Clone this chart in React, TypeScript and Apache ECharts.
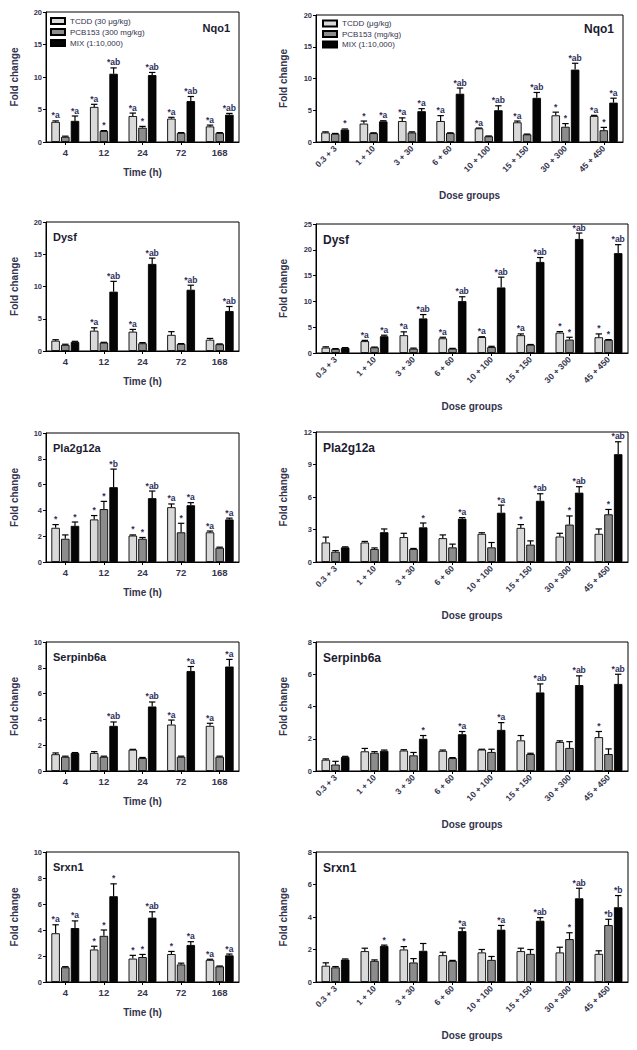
import React, { useEffect, useRef } from "react";
import * as echarts from "echarts";

// ---------- categories & legend names ----------
const timeCats = ["4", "12", "24", "72", "168"];
const doseCats = ["0.3 + 3", "1 + 10", "3 + 30", "6 + 60", "10 + 100", "15 + 150", "30 + 300", "45 + 450"];
const timeNames = ["TCDD (30 μg/kg)", "PCB153 (300 mg/kg)", "MIX (1:10,000)"];
const doseNames = ["TCDD (μg/kg)", "PCB153 (mg/kg)", "MIX (1:10,000)"];

// ---------- data: [TCDD, PCB153, MIX] ----------
// Nqo1 - time
const nqo1TimeMean = [[3.1, 5.4, 4.0, 3.6, 2.4], [0.8, 1.7, 2.2, 1.4, 1.4], [3.25, 10.5, 10.3, 6.3, 4.2]];
const nqo1TimeSem = [[0.15, 0.4, 0.45, 0.2, 0.2], [0.1, 0.05, 0.2, 0.05, 0.05], [0.75, 0.9, 0.4, 0.7, 0.2]];
const nqo1TimeSig = [["*a", "*a", "*a", "*a", "*a"], ["", "*", "*", "", ""], ["*a", "*ab", "*ab", "*ab", "*ab"]];
// Nqo1 - dose
const nqo1DoseMean = [[1.5, 2.9, 3.3, 3.3, 2.15, 3.1, 4.2, 4.1], [1.3, 1.4, 1.5, 1.4, 0.9, 1.2, 2.4, 1.85], [1.95, 3.25, 4.85, 7.6, 5.0, 6.95, 11.4, 6.2]];
const nqo1DoseSem = [[0.1, 0.4, 0.5, 0.85, 0.05, 0.2, 0.5, 0.1], [0.05, 0.05, 0.1, 0.05, 0.05, 0.05, 0.5, 0.45], [0.1, 0.1, 0.4, 0.9, 0.7, 0.85, 1.0, 0.7]];
const nqo1DoseSig = [["", "*", "*a", "*a", "*a", "*a", "*", "*a"], ["", "", "", "", "", "", "*", "*"], ["*", "*a", "*a", "*ab", "*ab", "*ab", "*ab", "*a"]];
// Dysf - time
const dysfTimeMean = [[1.6, 3.15, 3.0, 2.5, 1.75], [0.95, 1.3, 1.2, 1.1, 1.05], [1.4, 9.2, 13.5, 9.5, 6.2]];
const dysfTimeSem = [[0.15, 0.45, 0.35, 0.5, 0.2], [0.1, 0.05, 0.1, 0.05, 0.05], [0.1, 1.6, 0.9, 0.7, 0.7]];
const dysfTimeSig = [["", "*a", "*a", "", ""], ["", "", "", "", ""], ["", "*ab", "*ab", "*ab", "*ab"]];
// Dysf - dose
const dysfDoseMean = [[1.05, 2.3, 3.45, 2.85, 3.1, 3.45, 3.95, 3.05], [0.8, 1.1, 0.85, 0.85, 1.15, 1.6, 2.6, 2.55], [1.0, 3.25, 6.7, 10.05, 12.7, 17.65, 22.1, 19.35]];
const dysfDoseSem = [[0.15, 0.15, 0.65, 0.2, 0.05, 0.25, 0.2, 0.65], [0.05, 0.05, 0.1, 0.05, 0.15, 0.05, 0.45, 0.05], [0.05, 0.2, 0.75, 0.85, 2.0, 0.85, 1.15, 1.65]];
const dysfDoseSig = [["", "*a", "*a", "*a", "*a", "*a", "*", "*"], ["", "", "", "", "", "", "*", "*"], ["", "*a", "*ab", "*ab", "*ab", "*ab", "*ab", "*ab"]];
// Pla2g12a - time
const plaTimeMean = [[2.65, 3.3, 2.05, 4.25, 2.3], [1.8, 4.1, 1.8, 2.3, 1.1], [2.8, 5.8, 4.95, 4.4, 3.3]];
const plaTimeSem = [[0.25, 0.3, 0.05, 0.25, 0.1], [0.3, 0.6, 0.1, 0.7, 0.05], [0.3, 1.4, 0.55, 0.2, 0.1]];
const plaTimeSig = [["*", "*", "*", "*a", "*a"], ["", "*", "*", "*", ""], ["*", "*b", "*ab", "*a", "*a"]];
// Pla2g12a - dose
const plaDoseMean = [[1.8, 1.8, 2.3, 2.2, 2.6, 3.15, 2.35, 2.6], [0.95, 1.2, 1.2, 1.35, 1.35, 1.6, 3.45, 4.4], [1.35, 2.75, 3.2, 4.0, 4.55, 5.65, 6.4, 9.95]];
const plaDoseSem = [[0.5, 0.1, 0.35, 0.3, 0.1, 0.3, 0.3, 0.45], [0.1, 0.1, 0.05, 0.3, 0.45, 0.35, 0.8, 0.45], [0.05, 0.3, 0.4, 0.1, 0.7, 0.65, 0.55, 1.15]];
const plaDoseSig = [["", "", "", "", "", "*", "", ""], ["", "", "", "", "", "", "*", "*"], ["", "", "*", "*a", "*a", "*ab", "*ab", "*ab"]];
// Serpinb6a - time
const serpTimeMean = [[1.3, 1.4, 1.65, 3.6, 3.5], [1.1, 1.1, 1.0, 1.1, 1.1], [1.4, 3.5, 5.0, 7.75, 8.1]];
const serpTimeSem = [[0.1, 0.1, 0.03, 0.35, 0.2], [0.05, 0.05, 0.05, 0.05, 0.05], [0.03, 0.3, 0.35, 0.35, 0.55]];
const serpTimeSig = [["", "", "", "*a", "*a"], ["", "", "", "", ""], ["", "*ab", "*ab", "*a", "*a"]];
// Serpinb6a - dose
const serpDoseMean = [[0.7, 1.22, 1.27, 1.25, 1.33, 1.9, 1.8, 2.1], [0.4, 1.13, 0.97, 0.8, 1.18, 1.05, 1.43, 1.05], [0.87, 1.25, 2.0, 2.28, 2.55, 4.87, 5.33, 5.4]];
const serpDoseSem = [[0.05, 0.18, 0.05, 0.05, 0.02, 0.3, 0.07, 0.35], [0.2, 0.07, 0.18, 0.03, 0.17, 0.05, 0.39, 0.32], [0.04, 0.05, 0.2, 0.17, 0.45, 0.53, 0.57, 0.6]];
const serpDoseSig = [["", "", "", "", "", "", "", "*"], ["", "", "", "", "", "", "", ""], ["", "", "*", "*a", "*a", "*ab", "*ab", "*ab"]];
// Srxn1 - time
const srxTimeMean = [[3.75, 2.5, 1.8, 2.15, 1.7], [1.13, 3.55, 1.92, 1.35, 1.2], [4.15, 6.6, 4.95, 2.85, 2.05]];
const srxTimeSem = [[0.65, 0.25, 0.25, 0.2, 0.05], [0.05, 0.45, 0.2, 0.1, 0.03], [0.55, 0.95, 0.45, 0.25, 0.1]];
const srxTimeSig = [["*a", "*", "*", "*", "*a"], ["", "*", "*", "", ""], ["*a", "*", "*ab", "*a", "*a"]];
// Srxn1 - dose
const srxDoseMean = [[1.0, 1.9, 2.0, 1.65, 1.82, 1.9, 1.82, 1.73], [0.9, 1.3, 1.2, 1.3, 1.36, 1.73, 2.64, 3.5], [1.38, 2.22, 1.92, 3.13, 3.22, 3.77, 5.15, 4.6]];
const srxDoseSem = [[0.18, 0.18, 0.18, 0.18, 0.18, 0.18, 0.32, 0.19], [0.05, 0.06, 0.24, 0.03, 0.21, 0.27, 0.39, 0.36], [0.04, 0.05, 0.45, 0.19, 0.26, 0.19, 0.62, 0.72]];
const srxDoseSig = [["", "", "*", "", "", "", "", ""], ["", "", "", "", "", "", "*", "*b"], ["", "*", "", "*a", "*a", "*ab", "*ab", "*b"]];

// ---------- panel definitions ----------
type Panel = {
  gene: string; kind: "time" | "dose"; mean: number[][]; sem: number[][]; sig: string[][];
  max: number; interval: number; row: number;
};
const panels: Panel[] = [
  { gene: "Nqo1", kind: "time", mean: nqo1TimeMean, sem: nqo1TimeSem, sig: nqo1TimeSig, max: 20, interval: 5, row: 0 },
  { gene: "Nqo1", kind: "dose", mean: nqo1DoseMean, sem: nqo1DoseSem, sig: nqo1DoseSig, max: 20, interval: 5, row: 0 },
  { gene: "Dysf", kind: "time", mean: dysfTimeMean, sem: dysfTimeSem, sig: dysfTimeSig, max: 20, interval: 5, row: 1 },
  { gene: "Dysf", kind: "dose", mean: dysfDoseMean, sem: dysfDoseSem, sig: dysfDoseSig, max: 25, interval: 5, row: 1 },
  { gene: "Pla2g12a", kind: "time", mean: plaTimeMean, sem: plaTimeSem, sig: plaTimeSig, max: 10, interval: 2, row: 2 },
  { gene: "Pla2g12a", kind: "dose", mean: plaDoseMean, sem: plaDoseSem, sig: plaDoseSig, max: 12, interval: 3, row: 2 },
  { gene: "Serpinb6a", kind: "time", mean: serpTimeMean, sem: serpTimeSem, sig: serpTimeSig, max: 10, interval: 2, row: 3 },
  { gene: "Serpinb6a", kind: "dose", mean: serpDoseMean, sem: serpDoseSem, sig: serpDoseSig, max: 8, interval: 2, row: 3 },
  { gene: "Srxn1", kind: "time", mean: srxTimeMean, sem: srxTimeSem, sig: srxTimeSig, max: 10, interval: 2, row: 4 },
  { gene: "Srxn1", kind: "dose", mean: srxDoseMean, sem: srxDoseSem, sig: srxDoseSig, max: 8, interval: 2, row: 4 },
];

// ---------- layout ----------
const leftTops = [12, 222, 433, 642, 852];
const leftBottoms = [142, 351, 562, 771, 982];
const rightTops = [15, 224, 432, 642, 852];
const rightBottoms = [142, 353, 562, 771, 982];
const FONT = "'Liberation Sans', Arial, Helvetica, sans-serif";
const AXIS_TEXT = "#34344e";
const SIG_TEXT = "#2d2f5c";
const COLORS = ["#d9d9d9", "#8c8c8c", "#050505"];
const BW = 8.5;
const GAP_PCT = 14;
const GAP = (BW * GAP_PCT) / 100;

function buildOption() {
  const grid: any[] = [];
  const xAxis: any[] = [];
  const yAxis: any[] = [];
  const series: any[] = [];
  const title: any[] = [];

  panels.forEach((p, i) => {
    const isTime = p.kind === "time";
    const cats = isTime ? timeCats : doseCats;
    const names = isTime ? timeNames : doseNames;
    const top = isTime ? leftTops[p.row] : rightTops[p.row];
    const bottom = isTime ? leftBottoms[p.row] : rightBottoms[p.row];
    const left = isTime ? 46 : 316;
    const right = isTime ? 239 : p.row === 0 ? 623 : 628;
    grid.push({
      left, top, width: right - left, height: bottom - top,
      show: true, borderColor: "#000", borderWidth: 1, backgroundColor: "transparent", containLabel: false,
    });
    xAxis.push({
      type: "category", gridIndex: i, data: cats,
      axisLine: { lineStyle: { color: "#000", width: 1 } },
      axisTick: { show: true, alignWithLabel: true, length: 3, lineStyle: { color: "#000" } },
      axisLabel: {
        interval: 0, rotate: isTime ? 0 : 45, margin: isTime ? 5 : 5,
        fontSize: isTime ? 9.5 : 8.5, fontWeight: "bold", color: AXIS_TEXT, fontFamily: FONT,
      },
      name: isTime ? "Time (h)" : "Dose groups", nameLocation: "middle", nameGap: isTime ? 25 : 48,
      nameTextStyle: { fontSize: 10, fontWeight: "bold", color: AXIS_TEXT, fontFamily: FONT },
    });
    yAxis.push({
      type: "value", gridIndex: i, min: 0, max: p.max, interval: p.interval,
      axisLine: { show: true, lineStyle: { color: "#000", width: 1 } },
      axisTick: { show: true, length: 3, lineStyle: { color: "#000" } },
      splitLine: { show: false },
      axisLabel: { fontSize: 7.5, fontWeight: "bold", color: AXIS_TEXT, margin: 4, fontFamily: FONT },
      name: "Fold change", nameLocation: "middle", nameGap: isTime ? 27 : 28,
      nameTextStyle: { fontSize: 10, fontWeight: "bold", color: AXIS_TEXT, fontFamily: FONT },
    });
    for (let s = 0; s < 3; s++) {
      series.push({
        type: "bar", name: names[s], xAxisIndex: i, yAxisIndex: i, data: p.mean[s],
        barWidth: BW, barGap: GAP_PCT + "%",
        itemStyle: { color: COLORS[s], borderColor: "#000", borderWidth: 0.9 },
        emphasis: { disabled: true }, silent: true,
      });
    }
    const items: any[] = [];
    for (let s = 0; s < 3; s++) {
      for (let c = 0; c < cats.length; c++) items.push([c, s, p.mean[s][c], p.sem[s][c]]);
    }
    const sig = p.sig;
    series.push({
      type: "custom", xAxisIndex: i, yAxisIndex: i, data: items, silent: true, z: 5,
      encode: { x: 0, y: 2 }, clip: false,
      renderItem: (params: any, api: any) => {
        const c = api.value(0), s = api.value(1), m = api.value(2), e = api.value(3);
        const p0 = api.coord([c, m]);
        const p1 = api.coord([c, m + e]);
        const x = p0[0] + (s - 1) * (BW + GAP);
        const children: any[] = [];
        if (e > 0) {
          children.push({ type: "line", shape: { x1: x, y1: p0[1], x2: x, y2: p1[1] }, style: { stroke: "#000", lineWidth: 1.2 } });
          children.push({ type: "line", shape: { x1: x - 3.2, y1: p1[1], x2: x + 3.2, y2: p1[1] }, style: { stroke: "#000", lineWidth: 1.2 } });
        }
        const lbl = sig[s][c];
        if (lbl) {
          children.push({
            type: "text", x, y: p1[1] - 1,
            style: { text: lbl, fill: SIG_TEXT, fontSize: 8.5, fontWeight: "bold", fontFamily: FONT, align: "center", verticalAlign: "bottom" },
          });
        }
        return { type: "group", children };
      },
    });

    // gene title
    const tStyle = { fontSize: isTime ? 11 : 12, fontWeight: "bold", color: "#1c1c30", fontFamily: FONT };
    if (p.row === 0) {
      title.push({ text: p.gene, right: 637 - (isTime ? 230 : 614), top: isTime ? 22 : 22.5, padding: 0, textStyle: tStyle });
    } else {
      title.push({ text: p.gene, left: isTime ? 53 : 323, top: top + (isTime ? 9.5 : 9.5), padding: 0, textStyle: tStyle });
    }
  });

  const legendCommon = {
    orient: "vertical", icon: "rect", itemWidth: 14, itemHeight: 6, padding: 0,
    selectedMode: false, textStyle: { fontSize: 8, lineHeight: 9, color: AXIS_TEXT, fontFamily: FONT },
  };
  const legend = [
    { ...legendCommon, data: timeNames, left: 50, top: 16.5, itemGap: 2 },
    { ...legendCommon, data: doseNames, left: 322, top: 19, itemGap: 1.5 },
  ];

  return { animation: false, backgroundColor: "#fff", grid, xAxis, yAxis, series, title, legend };
}

export default function App() {
  const ref = useRef<HTMLDivElement>(null);
  useEffect(() => {
    if (!ref.current) return;
    const chart = echarts.init(ref.current, undefined, { renderer: "svg" });
    chart.setOption(buildOption() as any);
    return () => chart.dispose();
  }, []);
  return <div ref={ref} style={{ position: "absolute", left: 0, top: 0, width: 637, height: 1050, background: "#fff" }} />;
}
